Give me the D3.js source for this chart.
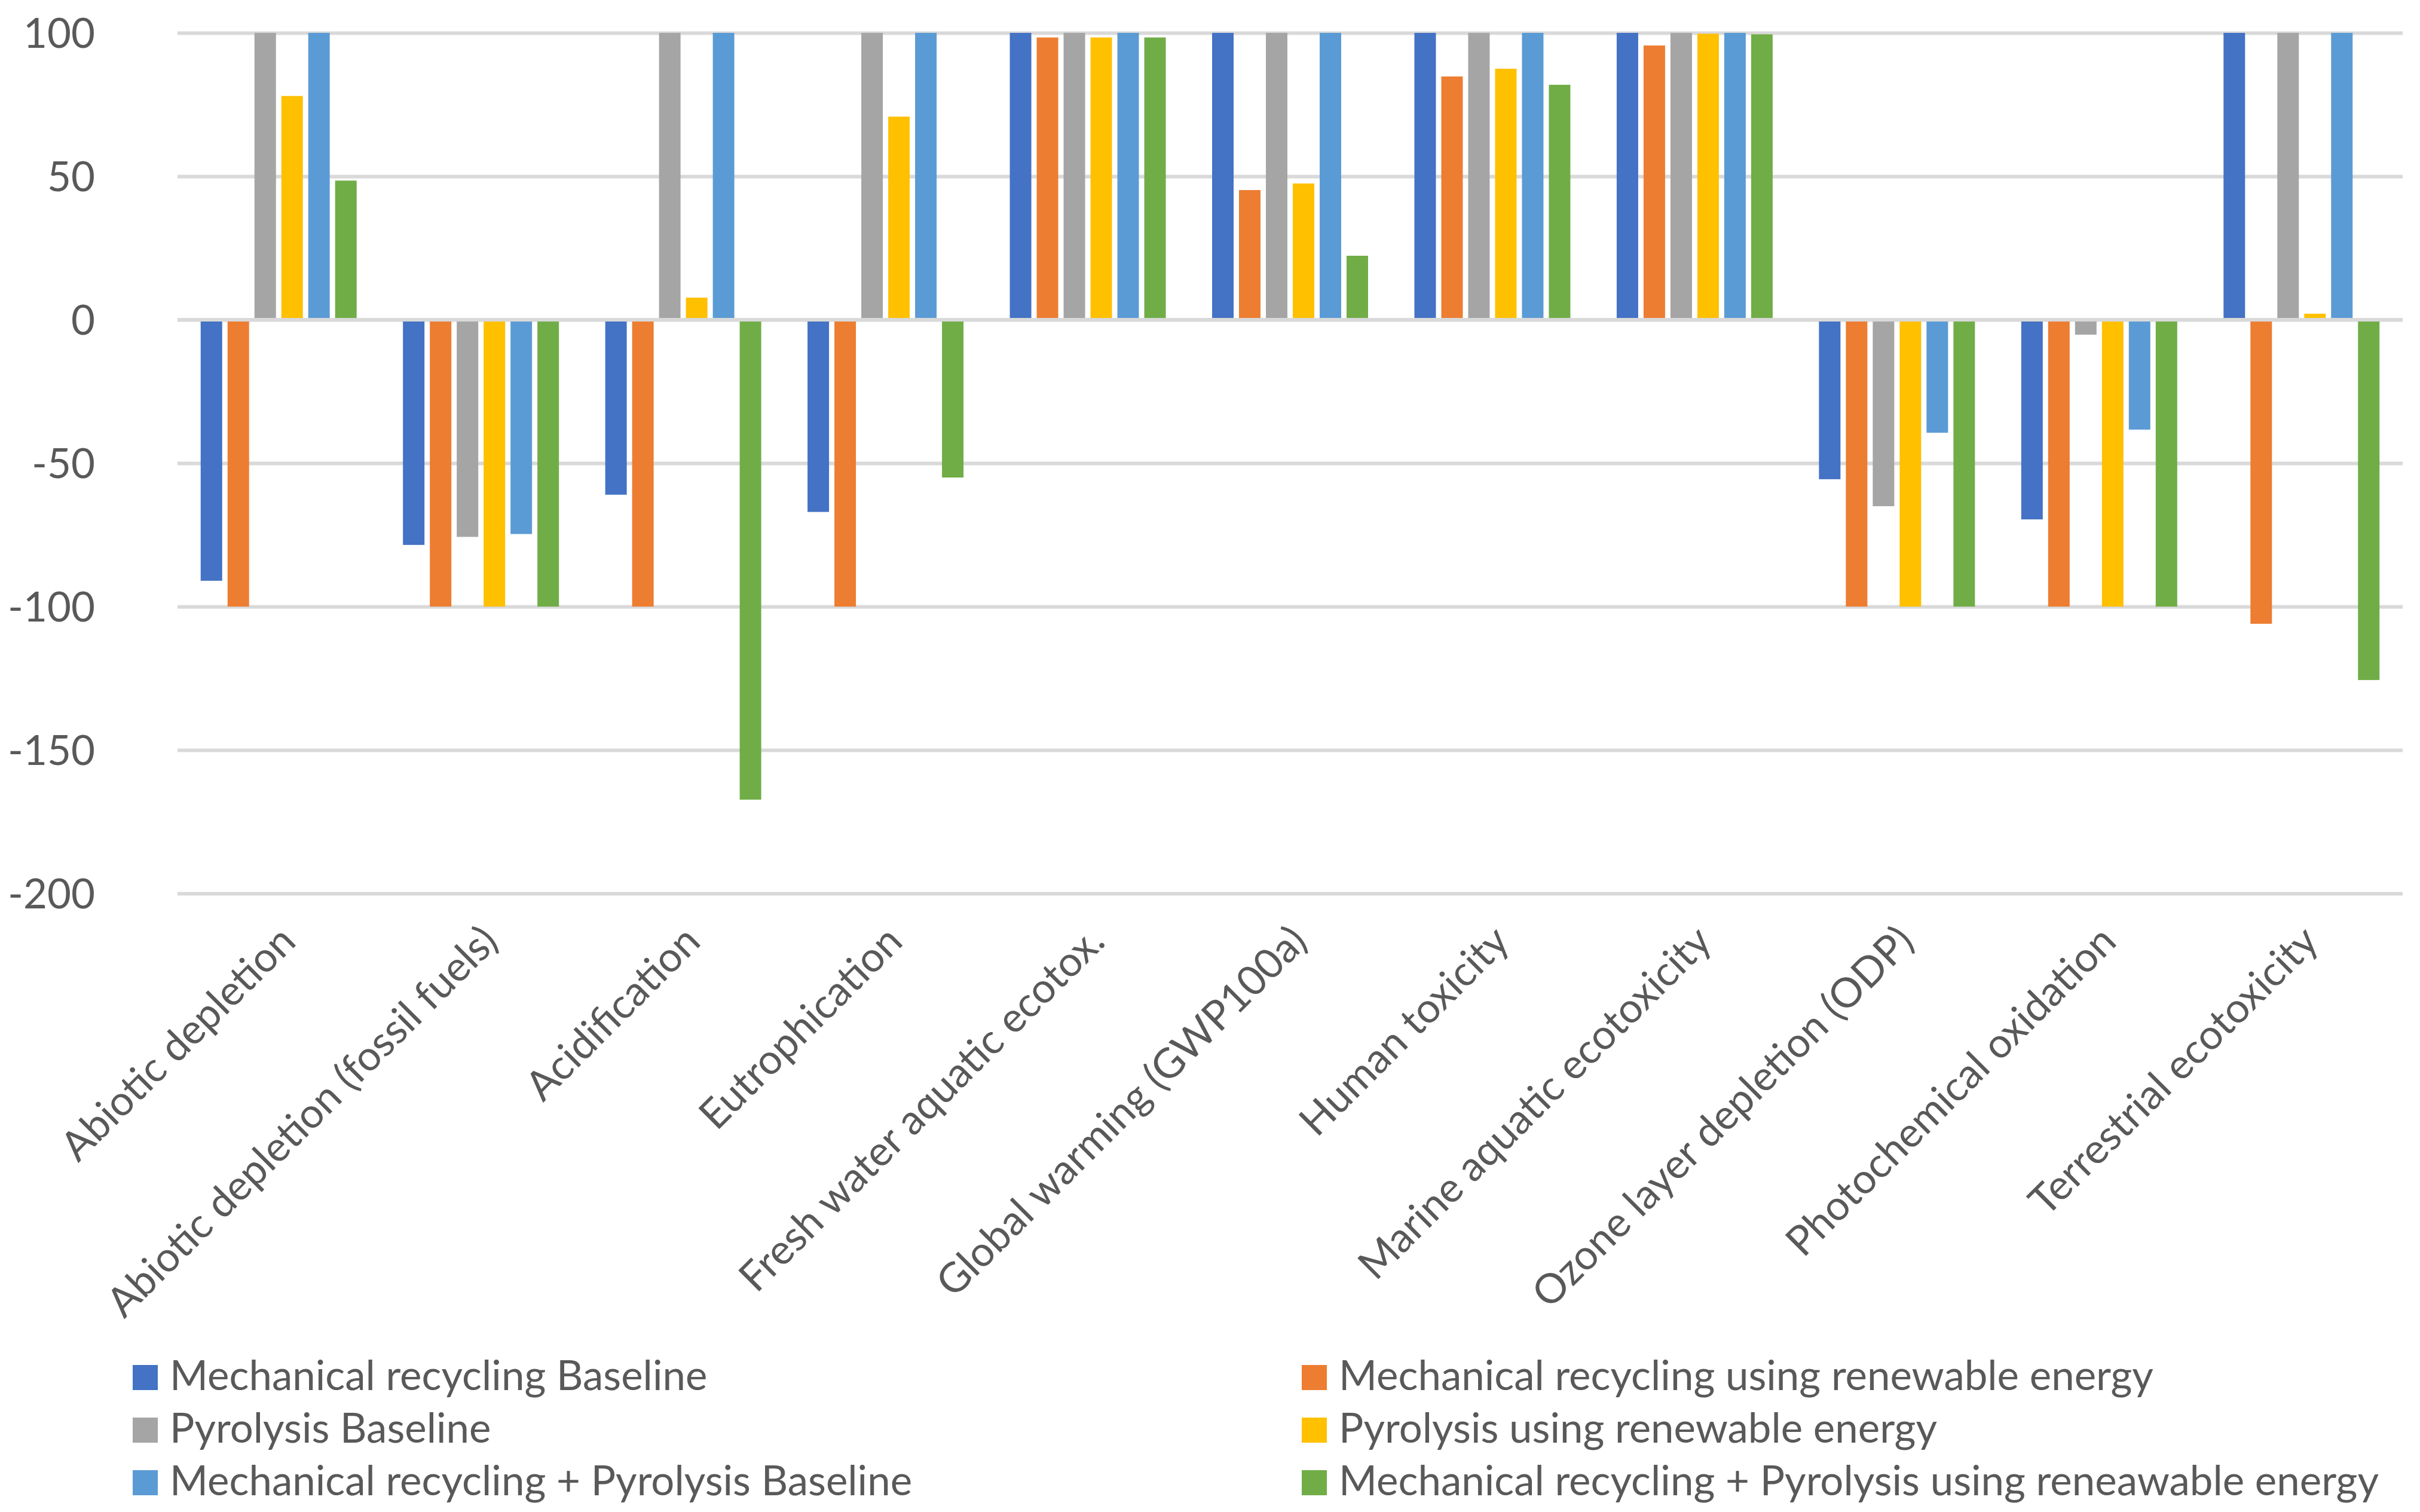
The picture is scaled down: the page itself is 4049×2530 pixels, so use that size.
<!DOCTYPE html>
<html>
<head>
<meta charset="utf-8">
<script src="https://cdn.jsdelivr.net/npm/d3@7"></script>
<style>
  body { margin: 0; background: #fff; }
  text { font-family: Lato, "Open Sans", sans-serif; fill: #595959; }
</style>
</head>
<body>
<script>
// impact categories on the x axis
const categories = [
  "Abiotic depletion", "Abiotic depletion (fossil fuels)", "Acidification",
  "Eutrophication", "Fresh water aquatic ecotox.", "Global warming (GWP100a)",
  "Human toxicity", "Marine aquatic ecotoxicity", "Ozone layer depletion (ODP)",
  "Photochemical oxidation", "Terrestrial ecotoxicity"
];

const seriesNames = [
  "Mechanical recycling Baseline",
  "Mechanical recycling using renewable energy",
  "Pyrolysis Baseline",
  "Pyrolysis using renewable energy",
  "Mechanical recycling + Pyrolysis Baseline",
  "Mechanical recycling + Pyrolysis using reneawable energy"
];
const seriesColors = ["#4472C4", "#ED7D31", "#A5A5A5", "#FFC000", "#5B9BD5", "#70AD47"];

// values, one array per series
const mechBaseline   = [-91, -78.5, -61, -67, 100, 100, 100, 100, -55.6, -69.6, 100];
const mechRenewable  = [-100, -100, -100, -100, 98.4, 45.2, 84.8, 95.6, -100, -100, -106];
const pyroBaseline   = [100, -75.7, 100, 100, 100, 100, 100, 100, -65, -5.2, 100];
const pyroRenewable  = [78, -100, 7.7, 70.8, 98.4, 47.5, 87.5, 99.7, -100, -100, 2.1];
const comboBaseline  = [100, -74.7, 100, 100, 100, 100, 100, 100, -39.4, -38.3, 100];
const comboRenewable = [48.5, -100, -167.3, -55, 98.4, 22.3, 81.9, 99.5, -100, -100, -125.6];

const yTicks = [100, 50, 0, -50, -100, -150, -200];

const seriesValues = [mechBaseline, mechRenewable, pyroBaseline, pyroRenewable, comboBaseline, comboRenewable];

const W = 4049, H = 2530;
const plotLeft = 297, plotRight = 4020, plotTop = 55, plotBottom = 1495;
const fontSize = 69;

const svg = d3.select("body").append("svg")
  .attr("width", W).attr("height", H)
  .style("display", "block");

const x0 = d3.scaleBand().domain(categories).range([plotLeft, plotRight]);
const x1 = d3.scaleBand().domain(d3.range(seriesNames.length))
  .range([0, x0.bandwidth()])
  .paddingInner(0.2).paddingOuter(0.861);
const y = d3.scaleLinear().domain([-200, 100]).range([plotBottom, plotTop]);

// gridlines + y labels (plain hyphen minus, like the original)
const yAxis = svg.append("g")
  .attr("transform", `translate(${plotLeft},0)`)
  .call(d3.axisLeft(y).tickValues(yTicks)
    .tickFormat(d => String(d))
    .tickSize(-(plotRight - plotLeft)).tickPadding(138));
yAxis.select(".domain").remove();
yAxis.selectAll(".tick line").attr("stroke", "#d9d9d9").attr("stroke-width", 6);
yAxis.selectAll(".tick text")
  .attr("font-size", fontSize).attr("dy", "0.36em")
  .style("font-family", "Lato, sans-serif").attr("fill", "#595959");

// bars
const groups = svg.append("g").selectAll("g")
  .data(categories)
  .join("g")
  .attr("transform", d => `translate(${x0(d)},0)`);

groups.selectAll("rect")
  .data((c, ci) => seriesValues.map((vals, si) => ({ si, v: vals[ci] })))
  .join("rect")
  .attr("x", d => x1(d.si))
  .attr("width", x1.bandwidth())
  .attr("y", d => y(Math.max(0, d.v)))
  .attr("height", d => Math.abs(y(d.v) - y(0)))
  .attr("fill", d => seriesColors[d.si]);

// zero line on top of the bars
svg.append("line")
  .attr("x1", plotLeft).attr("x2", plotRight)
  .attr("y1", y(0)).attr("y2", y(0))
  .attr("stroke", "#d9d9d9").attr("stroke-width", 6);

// rotated category labels
const xAxis = svg.append("g")
  .attr("transform", `translate(0,${plotBottom})`)
  .call(d3.axisBottom(x0).tickSize(0));
xAxis.select(".domain").remove();
xAxis.selectAll(".tick text")
  .attr("x", 0).attr("y", 0).attr("dy", 0)
  .attr("transform", "translate(32,84) rotate(-45)")
  .attr("font-size", fontSize)
  .style("text-anchor", "end")
  .style("font-family", "Lato, sans-serif").attr("fill", "#595959");

// legend, two columns
const legendX = [222, 2178];
const legend = svg.append("g").selectAll("g")
  .data(seriesNames)
  .join("g")
  .attr("transform", (d, i) => `translate(${legendX[i % 2]},${2284 + Math.floor(i / 2) * 88})`);
legend.append("rect")
  .attr("width", 42).attr("height", 42)
  .attr("fill", (d, i) => seriesColors[i]);
legend.append("text")
  .attr("x", 62).attr("y", 42)
  .attr("font-size", fontSize)
  .text(d => d);
</script>
</body>
</html>
